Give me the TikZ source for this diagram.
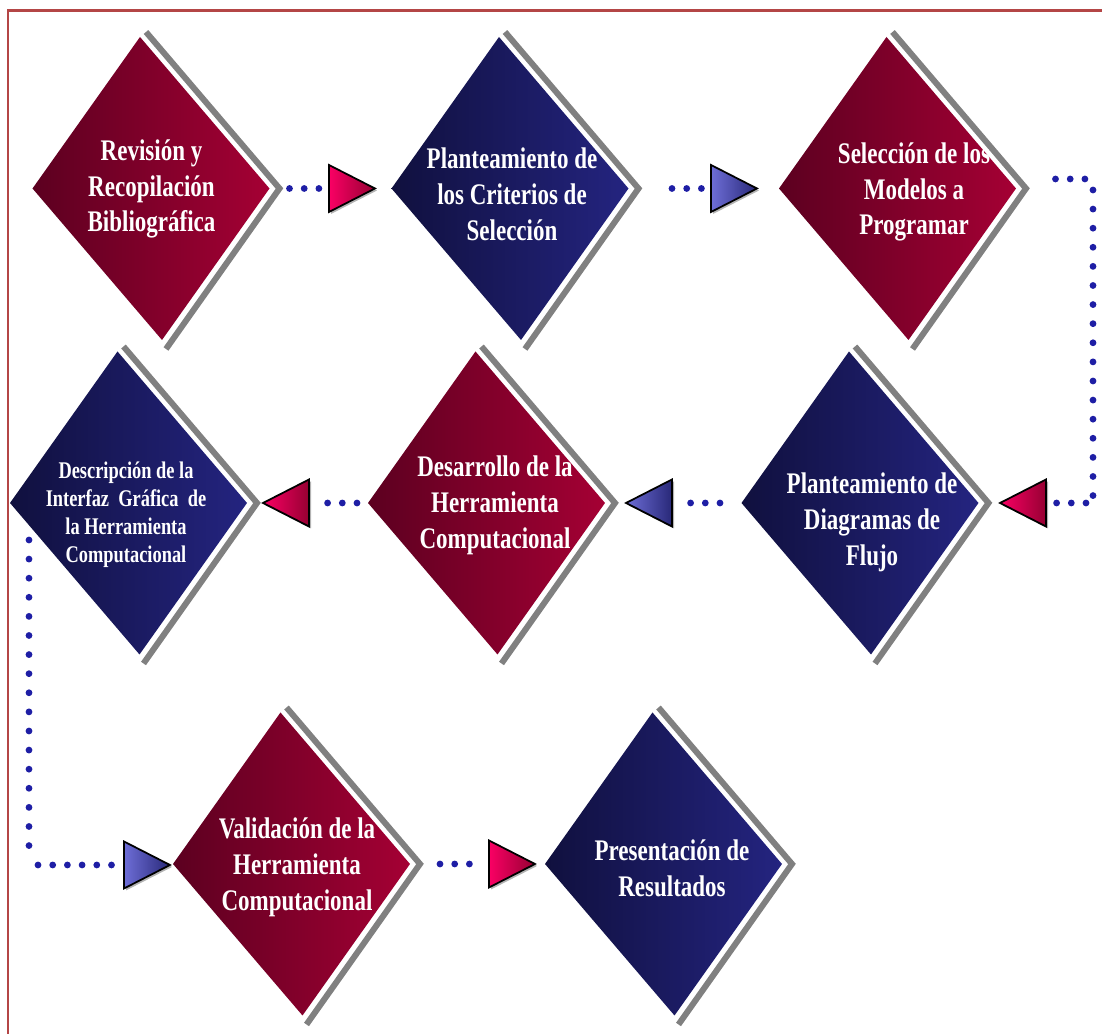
\documentclass[tikz,border=0pt]{standalone}
\usepackage{fontspec}
\newfontfamily\stepfont{Liberation Serif}[FakeStretch=0.77]
\usepackage{tikz}
\definecolor{stepredL}{RGB}{92,0,32}
\definecolor{stepredR}{RGB}{165,0,52}
\definecolor{stepblueL}{RGB}{16,16,62}
\definecolor{stepblueR}{RGB}{36,36,128}
\definecolor{tripinkL}{RGB}{250,0,100}
\definecolor{tripinkR}{RGB}{150,0,50}
\definecolor{triblueL}{RGB}{110,110,215}
\definecolor{triblueR}{RGB}{40,40,120}
\definecolor{dotblue}{RGB}{30,30,165}
\definecolor{framered}{RGB}{180,70,70}
\usetikzlibrary{shapes.geometric,shadows}

%% slanted diamond with its grey edge, drawn from the anchors of an empty stepbox node
\newcommand{\stepshape}[2]{%
  \shade[#2] ([xshift=-0.11cm]#1.north) -- (#1.east) -- ([xshift=0.11cm]#1.south) -- (#1.west) -- cycle;
  \draw[stepshadow] ([shift={(-0.05cm,0.05cm)}]#1.north) -- ([xshift=0.10cm]#1.east)
        -- ([shift={(0.15cm,-0.09cm)}]#1.south);
}

\begin{document}
\begin{tikzpicture}[
    stepbox/.style={diamond,minimum width=2.37cm,minimum height=3.03cm,inner sep=0pt,outer sep=0pt},
    stepred/.style={left color=stepredL,right color=stepredR},
    stepblue/.style={left color=stepblueL,right color=stepblueR},
    stepshadow/.style={draw=gray,line width=0.06cm,line join=miter},
    steptext/.style={text=white,align=center,inner sep=0pt,
        font=\stepfont\bfseries\fontsize{8.5}{10.2}\selectfont},
    arrowtri/.style={isosceles triangle,isosceles triangle stretches,minimum width=0.47cm,
        minimum height=0.46cm,inner sep=0pt,outer sep=0pt,draw=black,line width=0.5pt,
        drop shadow={shadow xshift=0.02cm,shadow yshift=-0.02cm,opacity=0.6}},
    tripink/.style={arrowtri,left color=tripinkL,right color=tripinkR},
    triblue/.style={arrowtri,left color=triblueL,right color=triblueR},
    dotline/.style={dotblue,line width=0.068cm,line cap=round,dash pattern=on 0pt off 0.147cm},
    dotlinev/.style={dotline,dash pattern=on 0pt off 0.191cm}]
  \useasboundingbox (0,0) rectangle (11.02,10.34);
  %% Frame
  \draw[framered,line width=0.6pt] (0.08,0) -- (0.08,10.235) -- (11.02,10.235);

  %% Row 1
  \node[stepbox] (rev) at (1.51,8.455) {};
  \stepshape{rev}{stepred}
  \node[steptext] (revtxt) at (1.515,8.45) {Revisión y\\Recopilación\\Bibliográfica};
  \node[stepbox] (crit) at (5.10,8.455) {};
  \stepshape{crit}{stepblue}
  \node[steptext] (crittxt) at (5.12,8.40) {Planteamiento de\\los Criterios de\\Selección};
  \node[stepbox] (sel) at (8.975,8.455) {};
  \stepshape{sel}{stepred}
  \node[steptext] (seltxt) at (9.14,8.42) {Selección de los\\Modelos a\\Programar};

  %% Row 2
  \node[stepbox] (desc) at (1.285,5.31) {};
  \stepshape{desc}{stepblue}
  \node[steptext,font=\stepfont\bfseries\fontsize{6.8}{7.95}\selectfont] (desctxt) at (1.26,5.19)
        {Descripción de la\\Interfaz\ \ Gráfica\ \ de\\la Herramienta\\Computacional};
  \node[stepbox] (desa) at (4.865,5.31) {};
  \stepshape{desa}{stepred}
  \node[steptext] (desatxt) at (4.95,5.29) {Desarrollo de la\\Herramienta\\Computacional};
  \node[stepbox] (flujo) at (8.60,5.31) {};
  \stepshape{flujo}{stepblue}
  \node[steptext] (flujotxt) at (8.72,5.12) {Planteamiento de\\Diagramas de\\Flujo};

  %% Row 3
  \node[stepbox] (valid) at (2.915,1.70) {};
  \stepshape{valid}{stepred}
  \node[steptext] (validtxt) at (2.97,1.67) {Validación de la\\Herramienta\\Computacional};
  \node[stepbox] (pres) at (6.635,1.70) {};
  \stepshape{pres}{stepblue}
  \node[steptext] (prestxt) at (6.72,1.66) {Presentación de\\Resultados};

  %% Triangles
  \node[tripink,anchor=apex] (t1) at (3.75,8.455) {};
  \node[triblue,anchor=apex] (t2) at (7.57,8.455) {};
  \node[tripink,shape border rotate=180,anchor=apex] (t3) at (10.00,5.31) {};
  \node[triblue,shape border rotate=180,anchor=apex] (t4) at (6.26,5.31) {};
  \node[tripink,shape border rotate=180,anchor=apex] (t5) at (2.63,5.31) {};
  \node[triblue,anchor=apex] (t6) at (1.70,1.69) {};
  \node[tripink,anchor=apex] (t7) at (5.35,1.70) {};

  %% Corners of the long connectors
  \coordinate (selcorner) at (10.93,8.55);
  \coordinate (flujocorner) at (10.93,5.31);
  \coordinate (desccorner) at (0.29,1.69);

  %% Dotted connectors
  \draw[dotline,shorten <=0.2cm,shorten >=0.06cm] (rev.east) -- (t1.lower side);
  \draw[dotline,shorten <=0.435cm,shorten >=0.06cm] (crit.east) -- (t2.lower side);
  \draw[dotline,shorten <=0.395cm] ([yshift=0.095cm]sel.east) -- (selcorner);
  \draw[dotlinev,shorten <=0.11cm,shorten >=0.06cm] (selcorner) -- (flujocorner);
  \draw[dotline,shorten <=0.07cm,shorten >=0.04cm] (flujocorner) -- (t3.lower side);
  \draw[dotline,shorten <=0.215cm,shorten >=0.06cm] (flujo.west) -- (t4.lower side);
  \draw[dotline,shorten <=0.11cm,shorten >=0.1cm] (desa.west) -- (t5.lower side);
  \draw[dotlinev,shorten <=0.37cm,shorten >=0.17cm] ([xshift=0.19cm]desc.west) -- (desccorner);
  \draw[dotline,shorten <=0.09cm,shorten >=0.06cm] (desccorner) -- (t6.lower side);
  \draw[dotline,shorten <=0.30cm,shorten >=0.08cm] (valid.east) -- (t7.lower side);
\end{tikzpicture}
\end{document}
